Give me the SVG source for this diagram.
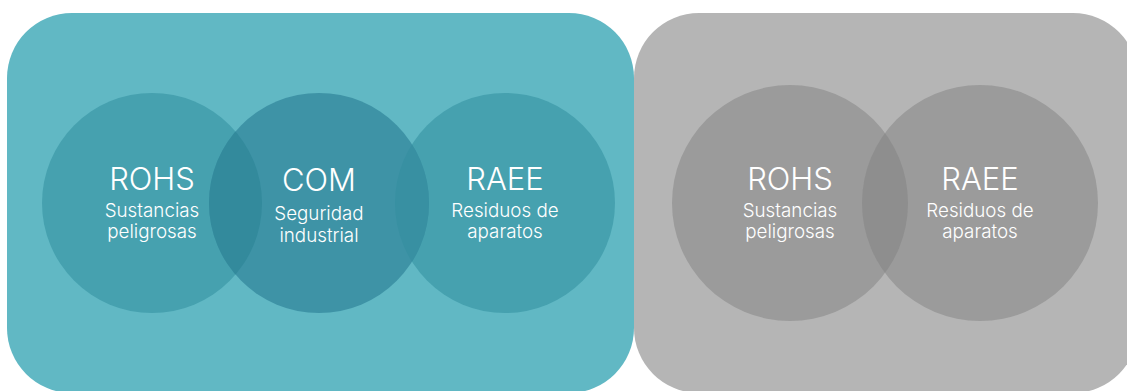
<svg xmlns="http://www.w3.org/2000/svg" width="1127" height="391" viewBox="0 0 1127 391">
  <style>
    .title { font-family: Inter, Lato, "Liberation Sans", sans-serif; font-weight: 300; font-size: 31px; fill: #ffffff; text-anchor: middle; }
    .sub { font-family: Inter, Lato, "Liberation Sans", sans-serif; font-weight: 300; font-size: 18.8px; fill: #ffffff; text-anchor: middle; }
  </style>
  <defs>
    <clipPath id="clipRohsL"><circle cx="152" cy="203" r="110"/></clipPath>
    <clipPath id="clipRaeeL"><circle cx="505" cy="203" r="110"/></clipPath>
    <clipPath id="clipRohsR"><circle cx="790" cy="203" r="118"/></clipPath>
  </defs>
  <rect width="1127" height="391" fill="#ffffff"/>
  <g id="panel-left">
    <rect x="7" y="13" width="627" height="380" rx="65" ry="65" fill="#61b8c4"/>
  </g>
  <g id="panel-right">
    <rect x="634" y="13" width="504" height="380" rx="65" ry="65" fill="#b5b5b5"/>
  </g>
  <g id="node-rohs-left">
    <circle cx="152" cy="203" r="110" fill="#46a1af"/>
  </g>
  <g id="node-raee-left">
    <circle cx="505" cy="203" r="110" fill="#46a1af"/>
  </g>
  <g id="node-com">
    <circle cx="319" cy="203" r="110" fill="#3e93a6"/>
    <circle cx="319" cy="203" r="110" fill="#338a9c" clip-path="url(#clipRohsL)"/>
    <circle cx="319" cy="203" r="110" fill="#3890a2" clip-path="url(#clipRaeeL)"/>
  </g>
  <g id="node-rohs-right">
    <circle cx="790" cy="203" r="118" fill="#9b9b9b"/>
  </g>
  <g id="node-raee-right">
    <circle cx="980" cy="203" r="118" fill="#9b9b9b"/>
    <circle cx="980" cy="203" r="118" fill="#8e8e8e" clip-path="url(#clipRohsR)"/>
  </g>
  <g id="connectors"/>
  <g id="labels">
    <text class="title" x="152" y="190">ROHS</text>
    <text class="sub" x="152" y="217">Sustancias</text>
    <text class="sub" x="152" y="238">peligrosas</text>
    <text class="title" x="319" y="191">COM</text>
    <text class="sub" x="319" y="220">Seguridad</text>
    <text class="sub" x="319" y="242">industrial</text>
    <text class="title" x="505" y="190">RAEE</text>
    <text class="sub" x="505" y="217">Residuos de</text>
    <text class="sub" x="505" y="238">aparatos</text>
    <text class="title" x="790" y="190">ROHS</text>
    <text class="sub" x="790" y="217">Sustancias</text>
    <text class="sub" x="790" y="238">peligrosas</text>
    <text class="title" x="980" y="190">RAEE</text>
    <text class="sub" x="980" y="217">Residuos de</text>
    <text class="sub" x="980" y="238">aparatos</text>
  </g>
</svg>
